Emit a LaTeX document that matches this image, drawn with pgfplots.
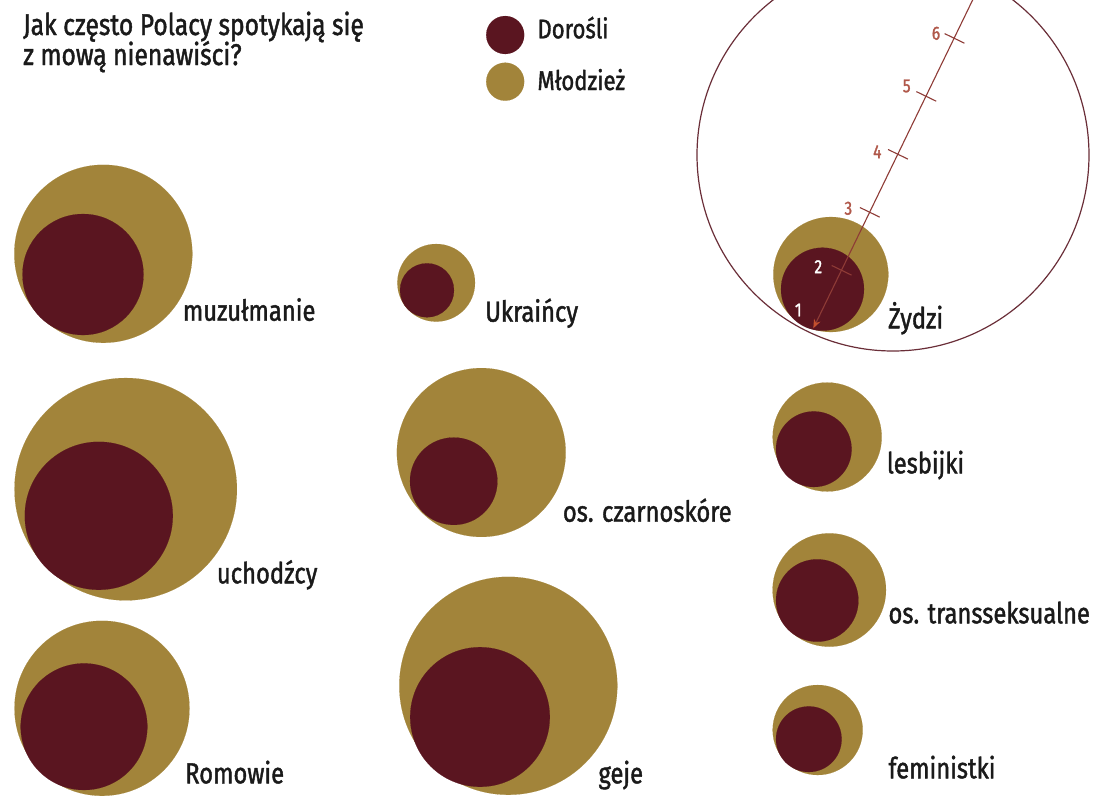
\documentclass[border=0pt]{standalone}
\usepackage{fontspec}
\setmainfont{Fira Sans}[FakeStretch=0.82, FakeBold=1.4]
\usepackage{pgfplots}
\usepackage{pgfplotstable}
\pgfplotsset{compat=1.18}
\usetikzlibrary{arrows.meta}
\definecolor{dorosli}{HTML}{5A1520}
\definecolor{mlodziez}{HTML}{A2843A}
\definecolor{scaleline}{HTML}{8E3B36}
\definecolor{scaletxt}{HTML}{B0584A}
\definecolor{arrowc}{HTML}{C4502E}
\definecolor{bigcirc}{HTML}{6A2E38}
\definecolor{txt}{HTML}{1A1A1A}

% outer circles: Mlodziez (centre x, centre y in px, radius in px)
\pgfplotstableread{
x y r
103.3 253.8 89
436.2 282.8 38.8
830.8 274.5 57.5
125.7 489.2 111.2
481.3 452.5 84.4
827.2 437 54.5
102 708.3 87.5
508.3 685.8 109
829.3 590 56.7
817.7 730 45
505.2 81.7 19
}\tabOuter
% inner circles: Dorosli
\pgfplotstableread{
x y r
83 274.5 60.5
427 290.3 27
822.5 289.2 41.5
98.8 515.8 74
453.7 481.2 43.7
813.8 449.2 37.8
84 726.7 63.3
480 717 69.8
817.2 600.5 41.2
808.8 739.2 32.8
505.2 35 19
}\tabInner
\pgfplotstableread{
x y r
893 155 196
}\tabScale

\tikzset{lab/.style={anchor=base west, inner sep=0pt, text=txt, font=\fontsize{29}{32}\selectfont},
  sl/.style={inner sep=0pt, text=scaletxt, font=\fontsize{19}{22}\selectfont}}

\begin{document}
\begin{tikzpicture}
\useasboundingbox (0,0) rectangle (1096pt,796pt);
\begin{axis}[
  scale only axis, width=1096pt, height=796pt,
  xmin=0, xmax=1096, ymin=0, ymax=796, y dir=reverse,
  hide axis, clip=true, clip marker paths=true,
]
% scale circle
\addplot[scatter, only marks, mark=o,
  scatter/use mapped color={draw=bigcirc, fill=none},
  visualization depends on={\thisrow{r} \as \rr},
  scatter/@pre marker code/.append style={/tikz/mark size=\rr},
  mark options={line width=1.2pt}] table[x=x,y=y] {\tabScale};
% outer
\addplot[scatter, only marks, mark=*,
  scatter/use mapped color={draw=mlodziez, fill=mlodziez},
  visualization depends on={\thisrow{r} \as \rr},
  scatter/@pre marker code/.append style={/tikz/mark size=\rr},
  mark options={line width=0.1pt}] table[x=x,y=y] {\tabOuter};
% inner
\addplot[scatter, only marks, mark=*,
  scatter/use mapped color={draw=dorosli, fill=dorosli},
  visualization depends on={\thisrow{r} \as \rr},
  scatter/@pre marker code/.append style={/tikz/mark size=\rr},
  mark options={line width=0.1pt}] table[x=x,y=y] {\tabInner};
% scale line
\addplot[scaleline, line width=1.1pt, -{Stealth[length=9pt,width=7pt,color=arrowc]}] coordinates {(977.5,-10) (813.3,328.3)};
\addplot[scaleline, line width=1.1pt, unbounded coords=jump] coordinates {
(831.7,265.5) (851.5,275.1) (nan,nan)
(859.9,207.5) (879.7,217.1) (nan,nan)
(888.1,149.5) (907.9,159.1) (nan,nan)
(916.4,91.6) (936.2,101.2) (nan,nan)
(944.6,33.6) (964.4,43.2)
};
% scale labels
\node[sl, text=white] at (798.3,310) {1};
\node[sl, text=white] at (818.3,266.7) {2};
\node[sl] at (848.3,208.3) {3};
\node[sl] at (877.3,151.7) {4};
\node[sl] at (906.7,86) {5};
\node[sl] at (936,33.3) {6};
% title
\node[lab, font=\fontsize{30}{33}\selectfont] at (23,35) {Jak często Polacy spotykają się};
\node[lab, font=\fontsize{30}{33}\selectfont] at (23,65) {z mową nienawiści?};
% legend
\node[lab, font=\fontsize{27}{30}\selectfont] at (537.3,38.3) {Dorośli};
\node[lab, font=\fontsize{27}{30}\selectfont] at (537.3,90) {Młodzież};
% category labels
\node[lab] at (182.7,320.7) {muzułmanie};
\node[lab] at (485,321.7) {Ukraińcy};
\node[lab] at (888,328.3) {Żydzi};
\node[lab] at (216.7,583.3) {uchodźcy};
\node[lab] at (562.7,521.7) {os. czarnoskóre};
\node[lab] at (886.7,473.3) {lesbijki};
\node[lab] at (888.3,623.3) {os. transseksualne};
\node[lab] at (185,783.3) {Romowie};
\node[lab] at (598.3,783.3) {geje};
\node[lab] at (888.3,778.3) {feministki};
\end{axis}
\end{tikzpicture}
\end{document}
